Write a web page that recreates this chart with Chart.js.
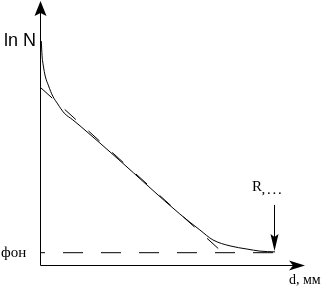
<!DOCTYPE html>
<html>
<head>
<meta charset="utf-8">
<script src="https://cdn.jsdelivr.net/npm/chart.js@4/dist/chart.umd.min.js"></script>
<style>
html,body{margin:0;padding:0;background:#fff;}
#wrap{width:321px;height:287px;}
</style>
</head>
<body>
<div id="wrap"><canvas id="c" width="321" height="287"></canvas></div>
<script>
// curve ln N (d)
const curveX = [0.05, 0.08, 0.13, 0.20, 0.33, 0.49, 0.68, 0.93, 1.26, 1.54, 3.0, 5.38, 6.15, 6.65, 7.31, 7.96, 8.46, 9.04];
const curveY = [8.62, 8.05, 7.66, 7.28, 6.90, 6.51, 6.21, 5.86, 5.60, 5.37, 4.10, 1.99, 1.38, 1.00, 0.77, 0.65, 0.57, 0.54];
// tangent (dashed)
const tangentX = [0.04, 7.0];
const tangentY = [6.82, 0.54];
// background level (dashed)
const backgroundX = [0, 9.04];
const backgroundY = [0.51, 0.51];
// R marker
const markerX = [9.04];
const markerY = [2.34, 0.57];
// labels
const yTitle = "ln N";
const xTitle = "d, мм";
const bgLabel = "фон";
const rLabel = "R";
const rSuffix = ", . . .";

const toPts = (xs, ys) => xs.map((x, i) => ({x: x, y: ys[i]}));

const drawPlugin = {
  id: 'extras',
  afterDatasetsDraw(chart) {
    const ctx = chart.ctx;
    const xs = chart.scales.x, ys = chart.scales.y;
    const px = v => xs.getPixelForValue(v);
    const py = v => ys.getPixelForValue(v);
    ctx.save();
    ctx.strokeStyle = '#000';
    ctx.fillStyle = '#000';
    ctx.lineWidth = 1;
    // axes
    const x0 = Math.round(px(0)) + 0.5;
    const y0 = Math.round(py(0.04)) + 0.5;
    ctx.beginPath();
    ctx.moveTo(x0, y0);
    ctx.lineTo(x0, py(10) + 4);
    ctx.moveTo(x0, y0);
    ctx.lineTo(px(10) - 2, y0);
    ctx.stroke();
    // y arrow head
    const yt = py(10) - 4;
    ctx.beginPath();
    ctx.moveTo(x0, yt);
    ctx.lineTo(x0 - 6, yt + 15);
    ctx.lineTo(x0, yt + 12);
    ctx.lineTo(x0 + 6, yt + 15);
    ctx.closePath();
    ctx.fill();
    // x arrow head
    const xt = px(10) + 5;
    ctx.beginPath();
    ctx.moveTo(xt, y0);
    ctx.lineTo(xt - 16, y0 - 5);
    ctx.lineTo(xt - 12, y0);
    ctx.lineTo(xt - 16, y0 + 5);
    ctx.closePath();
    ctx.fill();
    // R marker arrow
    const mx = Math.round(px(markerX[0])) - 0.5;
    const mTop = py(markerY[0]);
    const mTip = py(markerY[1]);
    ctx.beginPath();
    ctx.moveTo(mx, mTop);
    ctx.lineTo(mx, mTip - 10);
    ctx.stroke();
    ctx.beginPath();
    ctx.moveTo(mx, mTip);
    ctx.lineTo(mx - 4, mTip - 17);
    ctx.lineTo(mx, mTip - 14);
    ctx.lineTo(mx + 4, mTip - 17);
    ctx.closePath();
    ctx.fill();
    // texts
    ctx.textBaseline = 'alphabetic';
    ctx.textAlign = 'left';
    ctx.font = '18px "Liberation Sans", Arial, sans-serif';
    ctx.fillText(yTitle, 4, 46);
    ctx.font = '15px "Liberation Serif", "Times New Roman", serif';
    ctx.fillText(bgLabel, 1, 257);
    ctx.font = '14px "Liberation Serif", "Times New Roman", serif';
    ctx.fillText(xTitle, 289, 284);
    ctx.font = '15px "Liberation Serif", "Times New Roman", serif';
    ctx.fillText(rLabel, 252, 191);
    ctx.font = 'bold 11px "Liberation Serif", serif';
    ctx.fillText(rSuffix, 262, 194);
    ctx.restore();
  }
};

new Chart(document.getElementById('c'), {
  type: 'line',
  data: {
    datasets: [
      {
        data: toPts(curveX, curveY),
        borderColor: '#000', borderWidth: 1, pointRadius: 0,
        cubicInterpolationMode: 'monotone', fill: false
      },
      {
        data: toPts(tangentX, tangentY),
        borderColor: '#000', borderWidth: 1, pointRadius: 0,
        borderDash: [15, 17], fill: false
      },
      {
        data: toPts(backgroundX, backgroundY),
        borderColor: '#000', borderWidth: 1, pointRadius: 0,
        borderDash: [20, 18], borderDashOffset: 15, fill: false
      }
    ]
  },
  options: {
    responsive: false,
    animation: false,
    layout: { padding: { left: 40, right: 21, top: 5, bottom: 21 } },
    plugins: { legend: { display: false }, tooltip: { enabled: false } },
    scales: {
      x: { type: 'linear', min: 0, max: 10, display: false },
      y: { type: 'linear', min: 0, max: 10, display: false }
    }
  },
  plugins: [drawPlugin]
});
</script>
</body>
</html>
